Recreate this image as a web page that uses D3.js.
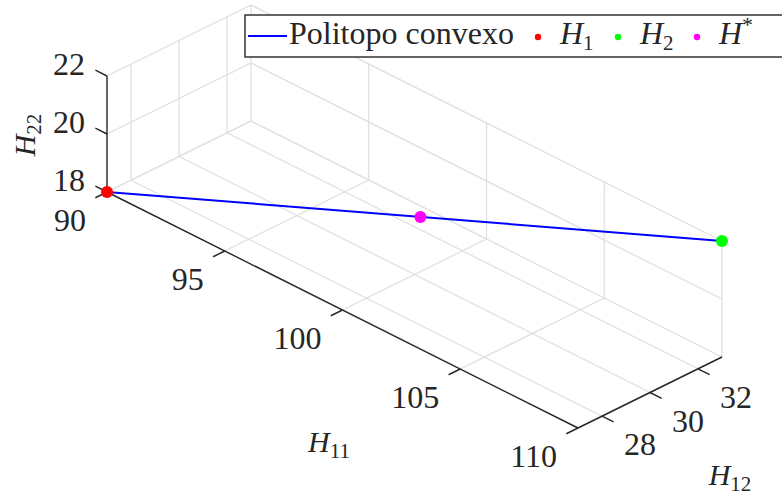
<!DOCTYPE html>
<html>
<head>
<meta charset="utf-8">
<script src="https://d3js.org/d3.v7.min.js"></script>
<style>
  body { margin: 0; background: white; }
  text { font-family: "Liberation Serif", "DejaVu Serif", serif; fill: #262626; }
</style>
</head>
<body>
<script>
// axis ticks
const xTicks = [90, 95, 100, 105, 110];   // H11
const yTicks = [28, 30, 32];              // H12
const zTicks = [18, 20, 22];              // H22

// polytope segment (H1 -> H2)
const polyH11 = [90, 110];
const polyH12 = [27, 33];
const polyH22 = [18, 22];

// marked points
const ptNames = ["1", "2", "*"];
const ptH11 = [90, 110, 100.2];
const ptH12 = [27, 33, 30.05];
const ptH22 = [18, 22, 20.04];
const ptColors = ["#ff0000", "#00ff00", "#ff00ff"];

const width = 782, height = 499;
const svg = d3.select("body").append("svg").attr("width", width).attr("height", height);

// scales to unit cube, then fixed 3D view projection
const sx = d3.scaleLinear().domain([90, 110]).range([0, 1]);
const sy = d3.scaleLinear().domain([27, 33]).range([0, 1]);
const sz = d3.scaleLinear().domain([18, 22]).range([0, 1]);
const O = [107, 192], EX = [471, 236], EY = [144, -71], EZ = [0, -116];
function proj(x, y, z) {
  const a = sx(x), b = sy(y), c = sz(z);
  return [O[0] + a*EX[0] + b*EY[0] + c*EZ[0], O[1] + a*EX[1] + b*EY[1] + c*EZ[1]];
}
const [x0, x1] = sx.domain(), [y0, y1] = sy.domain(), [z0, z1] = sz.domain();

// grid
const gridColor = "#dedede";
const grid = svg.append("g").attr("stroke", gridColor).attr("stroke-width", 1.2).attr("fill", "none");
function seg(g, a, b) {
  g.append("line").attr("x1", a[0]).attr("y1", a[1]).attr("x2", b[0]).attr("y2", b[1]);
}
// floor
xTicks.forEach(x => seg(grid, proj(x, y0, z0), proj(x, y1, z0)));
yTicks.forEach(y => seg(grid, proj(x0, y, z0), proj(x1, y, z0)));
// back wall (y = max)
xTicks.forEach(x => seg(grid, proj(x, y1, z0), proj(x, y1, z1)));
zTicks.forEach(z => seg(grid, proj(x0, y1, z), proj(x1, y1, z)));
// left wall (x = min)
yTicks.forEach(y => seg(grid, proj(x0, y, z0), proj(x0, y, z1)));
zTicks.forEach(z => seg(grid, proj(x0, y0, z), proj(x0, y1, z)));

// axes
const axisColor = "#262626";
const ax = svg.append("g").attr("stroke", axisColor).attr("stroke-width", 1.4).attr("fill", "none");
seg(ax, proj(x0, y0, z0), proj(x1, y0, z0));
seg(ax, proj(x1, y0, z0), proj(x1, y1, z0));
seg(ax, proj(x0, y0, z0), proj(x0, y0, z1));

const tl = 13;
const ux = [EX[0] / Math.hypot(...EX), EX[1] / Math.hypot(...EX)];
const uy = [EY[0] / Math.hypot(...EY), EY[1] / Math.hypot(...EY)];

const labels = svg.append("g").attr("font-size", 32);
xTicks.forEach(x => {
  const p = proj(x, y0, z0);
  seg(ax, p, [p[0] - tl*uy[0], p[1] - tl*uy[1]]);
  labels.append("text").attr("x", p[0] - 21).attr("y", p[1] + 39)
    .attr("text-anchor", "end").text(x);
});
yTicks.forEach(y => {
  const p = proj(x1, y, z0);
  seg(ax, p, [p[0] + tl*ux[0], p[1] + tl*ux[1]]);
  labels.append("text").attr("x", p[0] + 22).attr("y", p[1] + 39)
    .attr("text-anchor", "start").text(y);
});
zTicks.forEach(z => {
  const p = proj(x0, y0, z);
  seg(ax, p, [p[0] - tl*ux[0], p[1] - tl*ux[1]]);
  labels.append("text").attr("x", p[0] - 22).attr("y", p[1] - 1)
    .attr("text-anchor", "end").text(z);
});

// axis titles
function hLabel(g, sub, sup) {
  g.append("tspan").attr("font-style", "italic").text("H");
  if (sub) g.append("tspan").attr("font-size", 21).attr("dy", 6).text(sub);
  if (sup) g.append("tspan").attr("font-size", 22).attr("dy", -12).text(sup);
}
const t11 = svg.append("text").attr("font-size", 30).attr("text-anchor", "middle")
  .attr("x", 329).attr("y", 452);
hLabel(t11, "11");
const t12 = svg.append("text").attr("font-size", 30).attr("text-anchor", "middle")
  .attr("x", 730).attr("y", 485);
hLabel(t12, "12");
const t22 = svg.append("text").attr("font-size", 30).attr("text-anchor", "middle")
  .attr("transform", "translate(35,135) rotate(-90)");
hLabel(t22, "22");

// polytope line
const line = d3.line().x(d => d[0]).y(d => d[1]);
svg.append("path")
  .attr("d", line(polyH11.map((v, i) => proj(v, polyH12[i], polyH22[i]))))
  .attr("stroke", "#0000ff").attr("stroke-width", 2).attr("fill", "none");

// points
svg.append("g").selectAll("circle").data(ptNames).join("circle")
  .attr("cx", (d, i) => proj(ptH11[i], ptH12[i], ptH22[i])[0])
  .attr("cy", (d, i) => proj(ptH11[i], ptH12[i], ptH22[i])[1])
  .attr("r", 6)
  .attr("fill", (d, i) => ptColors[i]);

// legend
const lg = svg.append("g");
lg.append("rect").attr("x", 245).attr("y", 15).attr("width", 600).attr("height", 42)
  .attr("fill", "white").attr("stroke", axisColor).attr("stroke-width", 1.4);
lg.append("line").attr("x1", 248).attr("x2", 287).attr("y1", 36).attr("y2", 36)
  .attr("stroke", "#0000ff").attr("stroke-width", 2);
lg.append("text").attr("x", 289).attr("y", 44).attr("font-size", 32).text("Politopo convexo");
const legX = [538, 618, 697];
ptNames.forEach((n, i) => {
  lg.append("circle").attr("cx", legX[i]).attr("cy", 37).attr("r", 3.2).attr("fill", ptColors[i]);
  const t = lg.append("text").attr("x", legX[i] + 22).attr("y", 44).attr("font-size", 32);
  if (n === "*") hLabel(t, null, "*"); else hLabel(t, n);
});
</script>
</body>
</html>
